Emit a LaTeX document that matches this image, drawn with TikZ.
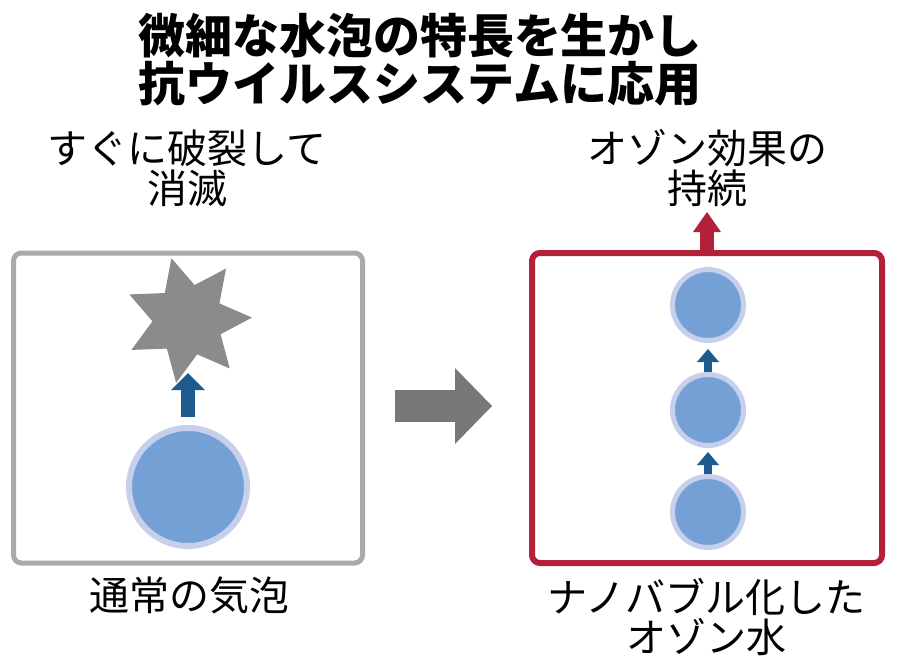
\documentclass[tikz,border=0pt]{standalone}
\usepackage{fontspec}
\setmainfont{Noto Sans CJK JP}
\usetikzlibrary{arrows.meta,shapes.geometric}
\definecolor{bubblefill}{HTML}{74A0D5}
\definecolor{bubblering}{HTML}{C6D0EA}
\definecolor{burstgray}{HTML}{8D8B8A}
\definecolor{stepgray}{HTML}{7A7877}
\definecolor{framegray}{HTML}{AAAAAA}
\definecolor{framered}{HTML}{B3203A}
\definecolor{riseblue}{HTML}{1D5B8E}
\tikzset{
  headline/.style={font=\fontsize{47}{48}\selectfont\bfseries, align=center, inner sep=0pt},
  lab/.style={font=\fontsize{40}{40}\selectfont, align=center, inner sep=0pt},
  boxframe/.style={line width=5pt, rounded corners=8pt, minimum width=349pt, minimum height=310pt},
  bubble/.style={circle, fill=bubblefill, draw=bubblering, inner sep=0pt},
  burst/.style={star, star points=7, star point ratio=1.8, fill=burstgray, inner sep=0pt, minimum size=128pt, shape border rotate=15},
  risearr/.style={draw=riseblue, line width=14pt, -{Triangle[width=34pt,length=17pt,line width=0pt]}},
  risesmall/.style={draw=riseblue, line width=8pt, -{Triangle[width=22pt,length=13pt,line width=0pt]}},
  lastarr/.style={draw=framered, line width=14pt, -{Triangle[width=28pt,length=20pt,line width=0pt]}},
  nextarr/.style={draw=stepgray, line width=32pt, -{Triangle[width=76pt,length=37pt,line width=0pt]}},
}

\begin{document}
\begin{tikzpicture}[x=1pt, y=-1pt]
  \path[fill=white, use as bounding box] (0,0) rectangle (900,667);
  \node[headline] (head) at (420,60) {微細な水泡の特長を生かし\\抗ウイルスシステムに応用};
  % ordinary bubble
  \node[lab] (burstlab) at (187,168) {すぐに破裂して\\消滅};
  \node[boxframe, draw=framegray] (lbox) at (188,408) {};
  \node[burst] (pop) at (188,320) {};
  \node[bubble, line width=6pt, minimum size=118pt] (big) at (188,487) {};
  \draw[risearr, shorten <=8pt, shorten >=53pt] (big.north) -- (pop.center);
  \node[lab] (normlab) at (189,595) {通常の気泡};
  % nano bubbles
  \node[lab] (keeplab) at (707,168) {オゾン効果の\\持続};
  \node[boxframe, draw=framered, line width=6pt, minimum width=350pt] (rbox) at (707,408) {};
  \node[bubble, line width=5pt, minimum size=71pt] (b1) at (708,305) {};
  \node[bubble, line width=5pt, minimum size=71pt] (b2) at (708,410) {};
  \node[bubble, line width=5pt, minimum size=71pt] (b3) at (708,512) {};
  \draw[risesmall, shorten >=6pt] (b2.north) -- (b1.south);
  \draw[risesmall, shorten >=4pt] (b3.north) -- (b2.south);
  \coordinate (keeptip) at (707,212);
  \draw[lastarr, shorten <=-3pt] (rbox.north) -- (keeptip);
  \node[lab] (nanolab) at (706,617) {ナノバブル化した\\オゾン水};
  % from left to right
  \draw[nextarr, shorten <=30pt, shorten >=37pt] ([yshift=2pt]lbox.east) -- ([yshift=2pt]rbox.west);
\end{tikzpicture}
\end{document}
